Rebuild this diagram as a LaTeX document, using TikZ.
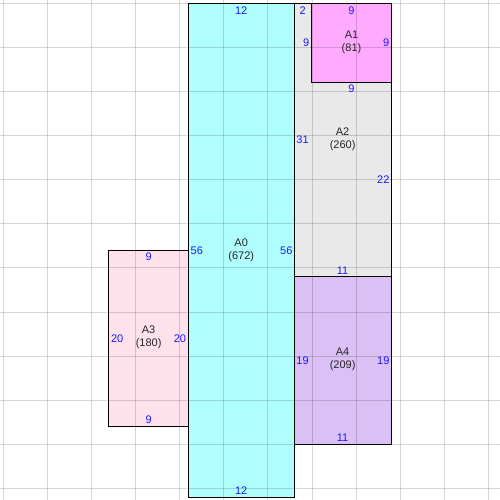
\documentclass[tikz,border=0pt]{standalone}
\usepackage{fontspec}
\setmainfont{Liberation Sans}
\begin{document}
\begin{tikzpicture}[x=1pt,y=-1pt,
  edge/.style={draw=black,line width=1pt},
  gridline/.style={draw=black,draw opacity=0.16,line width=0.9pt},
  num/.style={text=numblue,inner sep=0pt,font=\fontsize{11}{13}\selectfont},
  areaname/.style={text=black!85,inner sep=0pt,align=center,font=\fontsize{11}{13}\selectfont}]
\definecolor{numblue}{HTML}{1A1AFF}
\definecolor{cA0}{HTML}{B0FFFF}
\definecolor{cA1}{HTML}{FFAAFF}
\definecolor{cA2}{HTML}{E9E9E9}
\definecolor{cA3}{HTML}{FFE1EC}
\definecolor{cA4}{HTML}{DAC0F5}
\useasboundingbox (0,0) rectangle (500,500);
\fill[white] (0,0) rectangle (500,500);
% fills
\fill[cA0] (188.3,3.3) rectangle (294.1,497.2);
\fill[cA2] (294.1,3.3) rectangle (391.2,276.7);
\fill[cA1] (311.8,3.3) rectangle (391.2,82.7);
\fill[cA4] (294.1,276.7) rectangle (391.2,444.3);
\fill[cA3] (108.9,250.3) rectangle (188.3,426.7);
% grid
\foreach \k in {0,...,11}{
  \draw[gridline] ({3.3+44.1*\k},0) -- ({3.3+44.1*\k},500);
  \draw[gridline] (0,{3.3+44.1*\k}) -- (500,{3.3+44.1*\k});
}
% borders
\draw[edge] (188.3,3.3) rectangle (294.1,497.2);
\draw[edge] (294.1,3.3) rectangle (391.2,276.7);
\draw[edge] (311.8,3.3) rectangle (391.2,82.7);
\draw[edge] (294.1,276.7) rectangle (391.2,444.3);
\draw[edge] (108.9,250.3) rectangle (188.3,426.7);
% A0
\node[areaname] (nA0) at (241.2,250) {A0\\(672)};
\node[num] (a0t) at (241.2,10.7) {12};
\node[num] (a0b) at (241.2,490.8) {12};
\node[num,anchor=west] (a0l) at (190.5,250.7) {56};
\node[num,anchor=east] (a0r) at (292.6,250.7) {56};
% A1
\node[areaname] (nA1) at (351.5,42) {A1\\(81)};
\node[num] (a1t) at (351.5,10.7) {9};
\node[num,anchor=east] (a1r) at (389.4,43) {9};
% A2
\node[areaname] (nA2) at (342.6,139) {A2\\(260)};
\node[num] (a2t) at (302.8,10.7) {2};
\node[num,anchor=east] (a2n) at (309.5,43) {9};
\node[num] (a2m) at (351.5,89) {9};
\node[num,anchor=west] (a2l) at (296.2,140) {31};
\node[num,anchor=east] (a2r) at (389.6,180) {22};
\node[num] (a2b) at (342.6,270.3) {11};
% A4
\node[areaname] (nA4) at (342.6,359.5) {A4\\(209)};
\node[num,anchor=west] (a4l) at (296.2,361) {19};
\node[num,anchor=east] (a4r) at (389.6,361) {19};
\node[num] (a4b) at (342.6,438.2) {11};
% A3
\node[areaname] (nA3) at (148.6,337.5) {A3\\(180)};
\node[num] (a3t) at (148.6,256.8) {9};
\node[num] (a3b) at (148.6,420.2) {9};
\node[num,anchor=west] (a3l) at (110.8,339) {20};
\node[num,anchor=east] (a3r) at (186.3,339) {20};
\end{tikzpicture}
\end{document}
